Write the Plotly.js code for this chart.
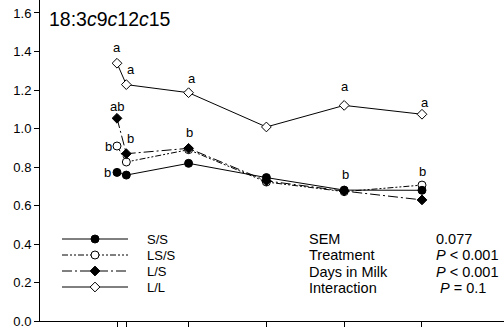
<!DOCTYPE html>
<html><head><meta charset="utf-8">
<script src="https://cdn.plot.ly/plotly-3.0.1.min.js"></script>
<style>html,body{margin:0;padding:0;background:#fff}#chart{width:504px;height:336px}</style>
</head><body><div id="chart"></div>
<script>
// Days in milk (sampling points)
const days = [2, 5, 25, 50, 75, 100];
const seriesNames = ["S/S", "LS/S", "L/S", "L/L"];
const valsSS  = [0.772, 0.758, 0.819, 0.745, 0.680, 0.679];
const valsLSS = [0.909, 0.826, 0.890, 0.722, 0.672, 0.706];
const valsLS  = [1.053, 0.869, 0.897, 0.728, 0.675, 0.629];
const valsLL  = [1.339, 1.228, 1.186, 1.008, 1.120, 1.074];
const yTicks = [0, 0.2, 0.4, 0.6, 0.8, 1.0, 1.2, 1.4, 1.6];
// significance letters: [series index, point index, letter, xshift, yshift]
const letters = [
  [3,0,"a",0,16],[3,1,"a",5,15],[3,2,"a",3,14],[3,4,"a",1,19],[3,5,"a",3,12],
  [2,0,"ab",0,12],[2,1,"b",4,15],[2,2,"b",1,16],
  [1,0,"b",-9,0],[0,0,"b",-10,0],[0,4,"b",1,16],[1,5,"b",1,14]
];
const statNames = ["SEM", "Treatment", "Days in Milk", "Interaction"];
const statVals = ["0.077", "<i>P</i> < 0.001", "<i>P</i> < 0.001", " <i>P</i> = 0.1"];

const allVals = [valsSS, valsLSS, valsLS, valsLL];
const styles = [
  {dash:"solid", symbol:"circle", fill:"#000", size:8},
  {dash:"6px,2px,2px,2px,2px,2px", symbol:"circle", fill:"#fff", size:8},
  {dash:"10px,3px,2px,3px", symbol:"diamond", fill:"#000", size:7.5},
  {dash:"solid", symbol:"diamond", fill:"#fff", size:7.5}
];
const font = "Liberation Sans, Arial, sans-serif";
const order = [3,1,2,0];
const traces = order.map(i => ({
  x: days, y: allVals[i], name: seriesNames[i], type: "scatter", mode: "lines+markers",
  line: {color:"#000", width:1, dash: styles[i].dash},
  marker: {symbol: styles[i].symbol, size: styles[i].size, color: styles[i].fill, line:{color:"#000", width:1}},
  showlegend: false, cliponaxis: false
}));
// custom legend in pixel coordinate helper axes
const legY = [239, 255, 271, 287];
seriesNames.forEach((n, i) => {
  traces.push({
    x: [62, 128], y: [legY[i], legY[i]], xaxis: "x2", yaxis: "y2", type: "scatter", mode: "lines",
    line: {color:"#000", width:1, dash: styles[i].dash}, showlegend:false, hoverinfo:"skip"
  });
  traces.push({
    x: [95], y: [legY[i]], xaxis: "x2", yaxis: "y2", type: "scatter", mode: "markers",
    marker: {symbol: styles[i].symbol, size: styles[i].size, color: styles[i].fill, line:{color:"#000", width:1}},
    showlegend:false, hoverinfo:"skip"
  });
});

const annotations = [];
letters.forEach(([s,p,t,xs,ys]) => {
  annotations.push({x: days[p], y: allVals[s][p], xref:"x", yref:"y", text:t, showarrow:false,
    xshift:xs, yshift:ys, font:{family:font, size:13, color:"#000"}});
});
seriesNames.forEach((n,i) => {
  annotations.push({x:145, y:legY[i], xref:"x2", yref:"y2", text:n, showarrow:false, xanchor:"left",
    yanchor:"middle", font:{family:font, size:13, color:"#000"}});
});
statNames.forEach((n,i) => {
  annotations.push({x:307, y:239+16.3*i, xref:"x2", yref:"y2", text:n, showarrow:false, xanchor:"left",
    yanchor:"middle", font:{family:font, size:14.5, color:"#000"}});
  annotations.push({x:434, y:239+16.3*i, xref:"x2", yref:"y2", text:statVals[i], showarrow:false, xanchor:"left",
    yanchor:"middle", font:{family:font, size:14.5, color:"#000"}});
});
annotations.push({x:47, y:19, xref:"x2", yref:"y2", text:"18:3<i>c</i>9<i>c</i>12<i>c</i>15", showarrow:false,
  xanchor:"left", yanchor:"middle", font:{family:font, size:19.5, color:"#000"}});

const layout = {
  width:504, height:336, margin:{l:40, r:0, t:0, b:15}, paper_bgcolor:"#fff", plot_bgcolor:"#fff",
  showlegend:false,
  xaxis: {range:[-22.74, 126.35], showgrid:false, zeroline:false, showline:true, linecolor:"#000", linewidth:1,
    ticks:"outside", ticklen:5, tickcolor:"#000", tickwidth:1, tickvals: days, showticklabels:false},
  yaxis: {range:[0, 1.6675], showgrid:false, zeroline:false, showline:true, linecolor:"#000", linewidth:1,
    ticks:"outside", ticklen:5, tickcolor:"#000", tickwidth:1, tickvals: yTicks, tickformat:".1f",
    tickfont:{family:font, size:13, color:"#000"}},
  xaxis2: {overlaying:"x", range:[40, 504], visible:false, fixedrange:true},
  yaxis2: {overlaying:"y", range:[321, 0], visible:false, fixedrange:true},
  annotations: annotations
};
Plotly.newPlot("chart", traces, layout, {staticPlot:true, displayModeBar:false});
</script></body></html>
